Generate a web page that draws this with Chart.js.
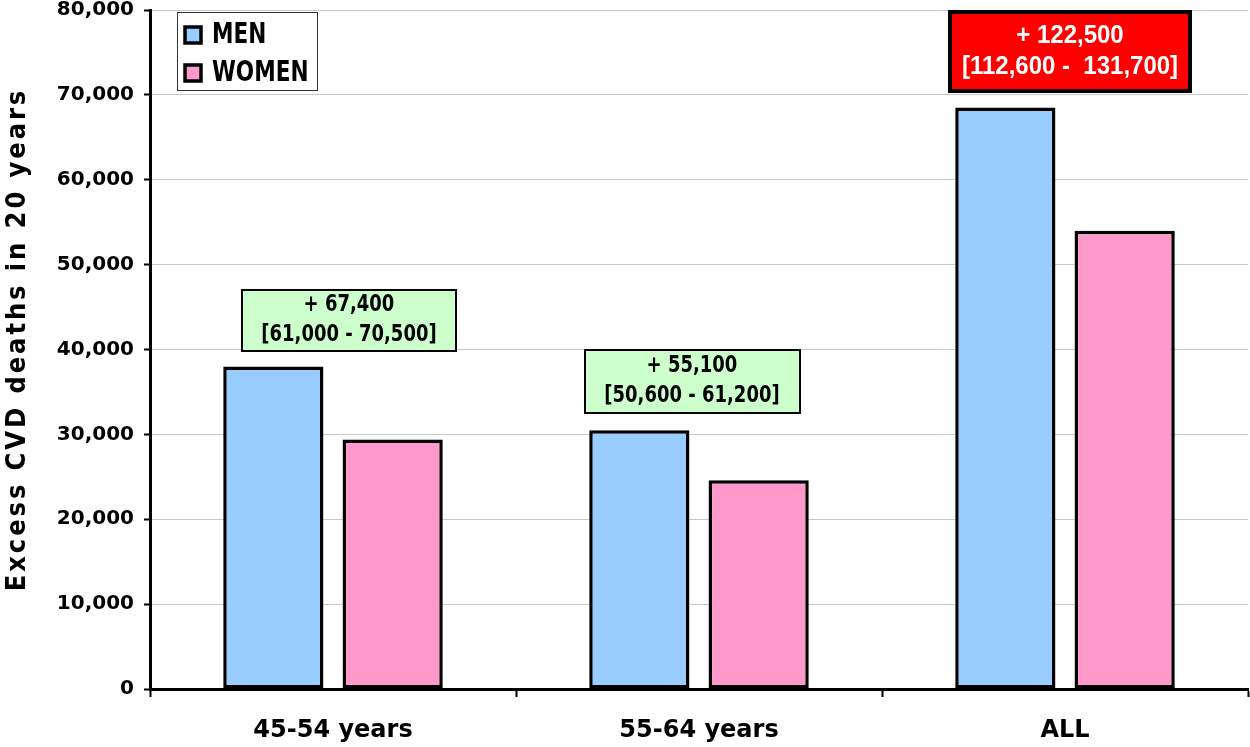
<!DOCTYPE html>
<html>
<head>
<meta charset="utf-8">
<script src="https://cdn.jsdelivr.net/npm/chart.js@4.4.1/dist/chart.umd.min.js"></script>
<style>
  html, body { margin: 0; padding: 0; background: #fff; }
  #wrap { width: 1250px; height: 747px; }
</style>
</head>
<body>
<div id="wrap"><canvas id="cvd" width="1250" height="747"></canvas></div>
<script>
  // values
  const categories = ["45-54 years", "55-64 years", "ALL"];
  const menDeaths = [38000, 30500, 68500];
  const womenDeaths = [29400, 24600, 54000];
  const totalLabels = ["+ 67,400", "+ 55,100", "+ 122,500"];
  const rangeLabels = ["[61,000 - 70,500]", "[50,600 - 61,200]", "[112,600 -  131,700]"];
  const yMax = 80000;
  const yStep = 10000;
  const yTitle = "Excess CVD deaths in 20 years";

  const MEN_COLOR = "#99ccff";
  const WOMEN_COLOR = "#ff99cc";

  // where each total box sits: horizontal nudge from category centre, bottom edge in data units
  const boxStyles = [
    { dx: 16, bottomAt: 39700, w: 216, h: 63, fill: "#ccffcc", text: "#000", border: 2,
      font: "bold 20px 'DejaVu Sans Condensed', 'DejaVu Sans'", lineGap: 30, stretch: 1.15 },
    { dx: -7, bottomAt: 32400, w: 217, h: 65, fill: "#ccffcc", text: "#000", border: 2,
      font: "bold 20px 'DejaVu Sans Condensed', 'DejaVu Sans'", lineGap: 30, stretch: 1.15 },
    { dx: 5, bottomAt: 70200, w: 244, h: 83, fill: "#ff0000", text: "#fff", border: 4,
      font: "bold 24px 'Liberation Sans', Arial", lineGap: 31, stretch: 1.1 },
  ];

  // draw a line of text a bit taller than the font, like the original narrow face
  function tallText(ctx, str, x, y, stretch) {
    ctx.save();
    ctx.translate(x, y);
    ctx.scale(1, stretch);
    ctx.fillText(str, 0, 0);
    ctx.restore();
  }

  const totalsPlugin = {
    id: "totals",
    afterDatasetsDraw(chart) {
      const { ctx, scales } = chart;
      ctx.save();
      totalLabels.forEach((t, i) => {
        const s = boxStyles[i];
        const cx = scales.x.getPixelForValue(i) + s.dx;
        const bottom = scales.y.getPixelForValue(s.bottomAt);
        const x0 = Math.round(cx - s.w / 2);
        const y0 = Math.round(bottom - s.h);
        ctx.fillStyle = s.fill;
        ctx.fillRect(x0, y0, s.w, s.h);
        ctx.lineWidth = s.border;
        ctx.strokeStyle = "#000";
        ctx.strokeRect(x0 + s.border / 2, y0 + s.border / 2, s.w - s.border, s.h - s.border);
        ctx.fillStyle = s.text;
        ctx.font = s.font;
        ctx.textAlign = "center";
        ctx.textBaseline = "middle";
        const midY = y0 + s.h / 2;
        tallText(ctx, t, cx, midY - s.lineGap / 2, s.stretch);
        tallText(ctx, rangeLabels[i], cx, midY + s.lineGap / 2, s.stretch);
      });
      ctx.restore();
    },
  };

  const legendPlugin = {
    id: "boxLegend",
    afterDraw(chart) {
      const { ctx, chartArea } = chart;
      const x0 = chartArea.left + 27;
      const y0 = chartArea.top + 2;
      ctx.save();
      ctx.fillStyle = "#fff";
      ctx.fillRect(x0, y0, 140, 78);
      ctx.strokeStyle = "#333";
      ctx.lineWidth = 1;
      ctx.strokeRect(x0 + 0.5, y0 + 0.5, 140, 78);
      ctx.font = "bold 24px 'DejaVu Sans Condensed', 'DejaVu Sans'";
      ctx.textBaseline = "middle";
      ctx.textAlign = "left";
      chart.data.datasets.forEach((ds, i) => {
        const cy = y0 + 23 + i * 38;
        ctx.fillStyle = ds.backgroundColor;
        ctx.fillRect(x0 + 8, cy - 8, 16, 16);
        ctx.lineWidth = 3.5;
        ctx.strokeStyle = "#000";
        ctx.strokeRect(x0 + 8, cy - 8, 16, 16);
        ctx.fillStyle = "#000";
        tallText(ctx, ds.label, x0 + 35, cy + 1, 1.15);
      });
      ctx.restore();
    },
  };

  const yTitlePlugin = {
    id: "yTitle",
    afterDraw(chart) {
      const { ctx, chartArea } = chart;
      ctx.save();
      ctx.translate(18, (chartArea.top + chartArea.bottom) / 2 - 10);
      ctx.rotate(-Math.PI / 2);
      ctx.font = "bold 27px 'DejaVu Sans Condensed', 'DejaVu Sans'";
      ctx.letterSpacing = "2.9px";
      ctx.fillStyle = "#000";
      ctx.textAlign = "center";
      ctx.textBaseline = "middle";
      ctx.fillText(yTitle, 0, 0);
      ctx.restore();
    },
  };

  Chart.defaults.devicePixelRatio = 1;

  new Chart(document.getElementById("cvd"), {
    type: "bar",
    data: {
      labels: categories,
      datasets: [
        {
          label: "MEN",
          data: menDeaths,
          backgroundColor: MEN_COLOR,
          borderColor: "#000",
          borderWidth: 3.5,
          borderSkipped: false,
        },
        {
          label: "WOMEN",
          data: womenDeaths,
          backgroundColor: WOMEN_COLOR,
          borderColor: "#000",
          borderWidth: 3.5,
          borderSkipped: false,
        },
      ],
    },
    options: {
      responsive: false,
      animation: false,
      categoryPercentage: 0.652,
      barPercentage: 0.84,
      layout: { padding: { top: 10, right: 2, left: 0, bottom: 0 } },
      plugins: {
        legend: { display: false },
        tooltip: { enabled: false },
      },
      scales: {
        x: {
          grid: {
            offset: true,
            drawOnChartArea: false,
            drawTicks: true,
            tickLength: 8,
            tickColor: "#000",
            tickWidth: 2,
          },
          border: { color: "#000", width: 3 },
          ticks: {
            color: "#000",
            padding: 19,
            font: { family: "'DejaVu Sans'", size: 24, weight: "bold" },
          },
          afterFit(scale) {
            scale.height = 58;
            scale.paddingLeft = 0;
            scale.paddingRight = 0;
          },
        },
        y: {
          min: 0,
          max: yMax,
          grid: {
            color: "#c8c8c8",
            lineWidth: 1,
            tickLength: 6,
            tickColor: "#000",
            tickWidth: 2,
          },
          border: { color: "#000", width: 3 },
          ticks: {
            stepSize: yStep,
            color: "#000",
            padding: 10,
            font: { family: "'DejaVu Sans'", size: 20, weight: "bold" },
            callback: (v) => Number(v).toLocaleString("en-US"),
          },
          afterFit(scale) {
            scale.width = 150;
            scale.paddingTop = 0;
            scale.paddingBottom = 0;
          },
        },
      },
    },
    plugins: [totalsPlugin, legendPlugin, yTitlePlugin],
  });
</script>
</body>
</html>
